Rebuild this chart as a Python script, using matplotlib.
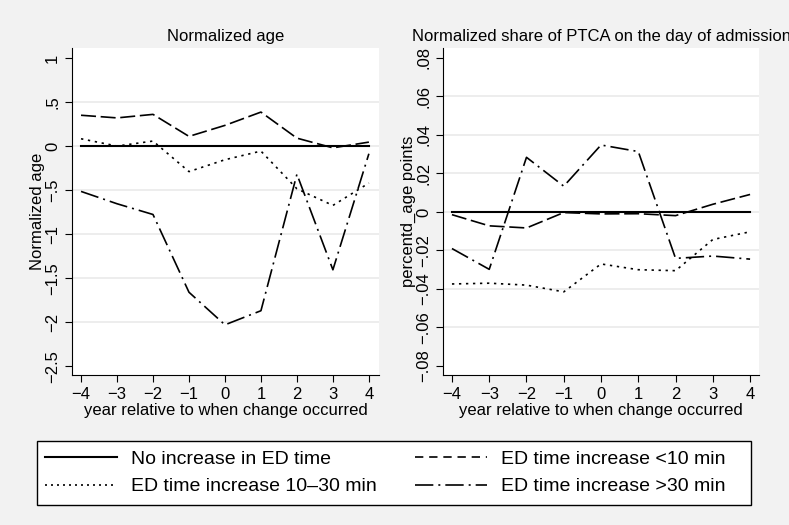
import numpy as np
import matplotlib
matplotlib.use("Agg")
import matplotlib.pyplot as plt
from matplotlib.patches import Rectangle
from matplotlib.lines import Line2D

plt.rcParams['font.family'] = ['Liberation Sans', 'DejaVu Sans']

years = [-4, -3, -2, -1, 0, 1, 2, 3, 4]

# Normalized age
age_none = [0, 0, 0, 0, 0, 0, 0, 0, 0]
age_lt10 = [0.35, 0.32, 0.36, 0.11, 0.235, 0.386, 0.09, -0.02, 0.045]
age_10_30 = [0.083, 0.0, 0.057, -0.29, -0.155, -0.057, -0.485, -0.674, -0.42]
age_gt30 = [-0.515, -0.655, -0.777, -1.66, -2.03, -1.87, -0.32, -1.405, -0.087]

# Normalized share of PTCA on day of admission
ptca_none = [0, 0, 0, 0, 0, 0, 0, 0, 0]
ptca_lt10 = [-0.0014, -0.0072, -0.0083, -0.0003, -0.001, -0.0009, -0.0019, 0.004, 0.0091]
ptca_10_30 = [-0.0374, -0.037, -0.038, -0.0415, -0.027, -0.030, -0.0305, -0.0143, -0.0103]
ptca_gt30 = [-0.019, -0.0298, 0.0284, 0.0134, 0.0348, 0.0314, -0.0241, -0.0229, -0.0245]

age_ticks = [1, 0.5, 0, -0.5, -1, -1.5, -2, -2.5]
age_labels = ['1', '.5', '0', '\u2212.5', '\u22121', '\u22121.5', '\u22122', '\u22122.5']
ptca_ticks = [0.08, 0.06, 0.04, 0.02, 0, -0.02, -0.04, -0.06, -0.08]
ptca_labels = ['.08', '.06', '.04', '.02', '0', '\u2212.02', '\u2212.04', '\u2212.06', '\u2212.08']
x_labels = ['\u22124', '\u22123', '\u22122', '\u22121', '0', '1', '2', '3', '4']

names = ['No increase in ED time', 'ED time increase <10 min',
         'ED time increase 10\u201330 min', 'ED time increase >30 min']

bg = '#f2f2f2'
# line styles in the plots
styles = [
    dict(linestyle='-', linewidth=1.5),
    dict(linestyle=(0, (9, 2.8)), linewidth=1.2),
    dict(linestyle=(0, (1.4, 2.8)), linewidth=1.2),
    dict(linestyle=(0, (11, 3, 1.2, 3)), linewidth=1.2),
]
# the legend keys use shorter patterns, as in the original
key_styles = [
    dict(linestyle='-', linewidth=1.5),
    dict(linestyle=(0, (5, 3.5)), linewidth=1.2),
    dict(linestyle=(0, (1.2, 2.4)), linewidth=1.2),
    dict(linestyle=(0, (11, 3, 1.2, 3)), linewidth=1.2),
]

fig = plt.figure(figsize=(7.89, 5.25), dpi=100, facecolor=bg)
ax1 = fig.add_axes([0.0913, 0.2857, 0.389, 0.6229])
ax2 = fig.add_axes([0.5615, 0.2857, 0.4005, 0.6229])


def setup(ax, title, ylabel, ticks, labels, ylim, xlim):
    ax.set_facecolor('white')
    ax.set_title(title, fontsize=12, pad=5)
    ax.set_ylabel(ylabel, fontsize=12, labelpad=0)
    ax.set_xlabel('year relative to when change occurred', fontsize=12, labelpad=1)
    ax.set_xlim(*xlim)
    ax.set_ylim(*ylim)
    ax.set_xticks(years)
    ax.set_xticklabels(x_labels, fontsize=12)
    ax.set_yticks(ticks)
    ax.set_yticklabels(labels, fontsize=12, rotation=90, va='center')
    for s in ['top', 'right']:
        ax.spines[s].set_visible(False)
    ax.tick_params(direction='out', length=5, width=0.8)
    for t in ticks[1:-1]:
        ax.axhline(t, color='#eaeaea', linewidth=1.2, zorder=0)


series = [
    (ax1, [age_none, age_lt10, age_10_30, age_gt30]),
    (ax2, [ptca_none, ptca_lt10, ptca_10_30, ptca_gt30]),
]
for ax, data in series:
    for vals, st in zip(data, styles):
        ax.plot(years, vals, color='black', **st)

setup(ax1, 'Normalized age', 'Normalized age', age_ticks, age_labels,
      (-2.6, 1.114), (-4.25, 4.28))
setup(ax2, 'Normalized share of PTCA on the day of admission', 'percentd_age points',
      ptca_ticks, ptca_labels, (-0.0847, 0.0852), (-4.24, 4.24))

# legend frame drawn separately (Stata leaves extra room on the right)
fig.add_artist(Rectangle((37 / 789, 1 - 505 / 525), 714 / 789, 64 / 525,
                         transform=fig.transFigure, fill=True, facecolor='white',
                         edgecolor='black', linewidth=1.0, zorder=0))
keys = [Line2D([], [], color='black', **st) for st in key_styles]
order = [0, 2, 1, 3]
leg = fig.legend([keys[i] for i in order], [names[i] for i in order],
                 ncol=2, loc='center left', bbox_to_anchor=(45 / 789, 1 - 473 / 525),
                 fontsize=14, frameon=False, handlelength=3.7,
                 columnspacing=2.0, handletextpad=0.7, borderpad=0,
                 borderaxespad=0, labelspacing=0.5)

fig.savefig('out.png', dpi=100, facecolor=bg)
